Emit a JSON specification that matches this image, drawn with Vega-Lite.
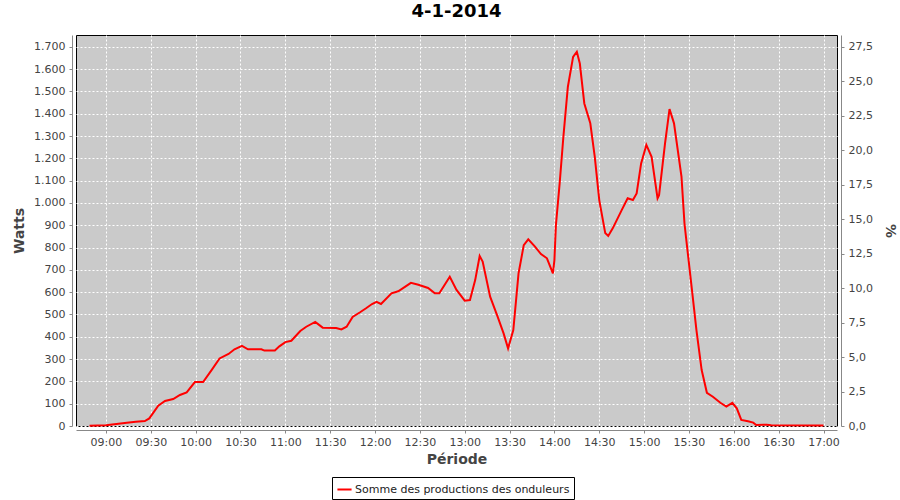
{
  "$schema": "https://vega.github.io/schema/vega-lite/v6.json",
  "autosize": "none",
  "width": 761,
  "height": 391,
  "padding": {"left": 76, "top": 35, "right": 63, "bottom": 74},
  "background": "white",
  "title": {"text": "4-1-2014", "fontSize": 18, "fontWeight": "bold", "font": "DejaVu Sans", "color": "black", "anchor": "middle", "offset": 11},
  "config": {
    "view": {"fill": "#cacaca", "stroke": "black", "strokeWidth": 1},
    "axis": {
      "labelFont": "DejaVu Sans", "labelFontSize": 11, "labelColor": "#444444",
      "titleFont": "DejaVu Sans", "titleFontSize": 14, "titleFontWeight": "bold", "titleColor": "#444444",
      "domainColor": "#888888", "tickColor": "#888888", "tickSize": 3,
      "gridColor": "white", "gridDash": [2, 2], "gridOpacity": 1, "gridWidth": 1
    }
  },
  "data": {"values": [
    {"t": "2014-01-04 08:49", "w": 1},
    {"t": "2014-01-04 09:00", "w": 3},
    {"t": "2014-01-04 09:07", "w": 9},
    {"t": "2014-01-04 09:14", "w": 15},
    {"t": "2014-01-04 09:20", "w": 19},
    {"t": "2014-01-04 09:26", "w": 22},
    {"t": "2014-01-04 09:29", "w": 34},
    {"t": "2014-01-04 09:35", "w": 91},
    {"t": "2014-01-04 09:39:30", "w": 112},
    {"t": "2014-01-04 09:45", "w": 121},
    {"t": "2014-01-04 09:49:30", "w": 139},
    {"t": "2014-01-04 09:54", "w": 151},
    {"t": "2014-01-04 09:59:30", "w": 197},
    {"t": "2014-01-04 10:05", "w": 197},
    {"t": "2014-01-04 10:11", "w": 254},
    {"t": "2014-01-04 10:16", "w": 303},
    {"t": "2014-01-04 10:22", "w": 323},
    {"t": "2014-01-04 10:26", "w": 344},
    {"t": "2014-01-04 10:31", "w": 359},
    {"t": "2014-01-04 10:35", "w": 344},
    {"t": "2014-01-04 10:44", "w": 344},
    {"t": "2014-01-04 10:46", "w": 338},
    {"t": "2014-01-04 10:53", "w": 339},
    {"t": "2014-01-04 10:56", "w": 357},
    {"t": "2014-01-04 11:00", "w": 376},
    {"t": "2014-01-04 11:04", "w": 382},
    {"t": "2014-01-04 11:10", "w": 426},
    {"t": "2014-01-04 11:14", "w": 445},
    {"t": "2014-01-04 11:20", "w": 467},
    {"t": "2014-01-04 11:25", "w": 441},
    {"t": "2014-01-04 11:34", "w": 439},
    {"t": "2014-01-04 11:37:30", "w": 433},
    {"t": "2014-01-04 11:41", "w": 445},
    {"t": "2014-01-04 11:45", "w": 489},
    {"t": "2014-01-04 11:50", "w": 510},
    {"t": "2014-01-04 11:54", "w": 528},
    {"t": "2014-01-04 11:58", "w": 547},
    {"t": "2014-01-04 12:01", "w": 557},
    {"t": "2014-01-04 12:04", "w": 547},
    {"t": "2014-01-04 12:11", "w": 595},
    {"t": "2014-01-04 12:15:30", "w": 604},
    {"t": "2014-01-04 12:20", "w": 624},
    {"t": "2014-01-04 12:24", "w": 642},
    {"t": "2014-01-04 12:29", "w": 633},
    {"t": "2014-01-04 12:35:30", "w": 619},
    {"t": "2014-01-04 12:40", "w": 595},
    {"t": "2014-01-04 12:43", "w": 595},
    {"t": "2014-01-04 12:50", "w": 669},
    {"t": "2014-01-04 12:54:30", "w": 610},
    {"t": "2014-01-04 13:00", "w": 562},
    {"t": "2014-01-04 13:03:30", "w": 565},
    {"t": "2014-01-04 13:07", "w": 654},
    {"t": "2014-01-04 13:10", "w": 762},
    {"t": "2014-01-04 13:12", "w": 737},
    {"t": "2014-01-04 13:17", "w": 580},
    {"t": "2014-01-04 13:22", "w": 490},
    {"t": "2014-01-04 13:26", "w": 415},
    {"t": "2014-01-04 13:29", "w": 348},
    {"t": "2014-01-04 13:32:30", "w": 430},
    {"t": "2014-01-04 13:36", "w": 684},
    {"t": "2014-01-04 13:39:30", "w": 811},
    {"t": "2014-01-04 13:42:30", "w": 837},
    {"t": "2014-01-04 13:47", "w": 804},
    {"t": "2014-01-04 13:51", "w": 771},
    {"t": "2014-01-04 13:55", "w": 752},
    {"t": "2014-01-04 13:59", "w": 684},
    {"t": "2014-01-04 14:00", "w": 744},
    {"t": "2014-01-04 14:01", "w": 900},
    {"t": "2014-01-04 14:03:30", "w": 1088},
    {"t": "2014-01-04 14:06", "w": 1297},
    {"t": "2014-01-04 14:09", "w": 1521},
    {"t": "2014-01-04 14:12:30", "w": 1655},
    {"t": "2014-01-04 14:15", "w": 1678},
    {"t": "2014-01-04 14:17", "w": 1625},
    {"t": "2014-01-04 14:20", "w": 1446},
    {"t": "2014-01-04 14:24", "w": 1357},
    {"t": "2014-01-04 14:27", "w": 1207},
    {"t": "2014-01-04 14:30", "w": 1013},
    {"t": "2014-01-04 14:34", "w": 865},
    {"t": "2014-01-04 14:36", "w": 852},
    {"t": "2014-01-04 14:39", "w": 886},
    {"t": "2014-01-04 14:45", "w": 968},
    {"t": "2014-01-04 14:49", "w": 1021},
    {"t": "2014-01-04 14:52:30", "w": 1013},
    {"t": "2014-01-04 14:55", "w": 1043},
    {"t": "2014-01-04 14:58", "w": 1177},
    {"t": "2014-01-04 15:01:30", "w": 1260},
    {"t": "2014-01-04 15:05", "w": 1207},
    {"t": "2014-01-04 15:09", "w": 1021},
    {"t": "2014-01-04 15:10", "w": 1035},
    {"t": "2014-01-04 15:14", "w": 1267},
    {"t": "2014-01-04 15:17", "w": 1421},
    {"t": "2014-01-04 15:20", "w": 1357},
    {"t": "2014-01-04 15:25", "w": 1118},
    {"t": "2014-01-04 15:27", "w": 909},
    {"t": "2014-01-04 15:28", "w": 848},
    {"t": "2014-01-04 15:32", "w": 610},
    {"t": "2014-01-04 15:35", "w": 430},
    {"t": "2014-01-04 15:38:30", "w": 251},
    {"t": "2014-01-04 15:42", "w": 149},
    {"t": "2014-01-04 15:46", "w": 131},
    {"t": "2014-01-04 15:51", "w": 104},
    {"t": "2014-01-04 15:55", "w": 87},
    {"t": "2014-01-04 15:59", "w": 104},
    {"t": "2014-01-04 16:02", "w": 79},
    {"t": "2014-01-04 16:05", "w": 27},
    {"t": "2014-01-04 16:09:30", "w": 21},
    {"t": "2014-01-04 16:13", "w": 15},
    {"t": "2014-01-04 16:15", "w": 4},
    {"t": "2014-01-04 16:22", "w": 6},
    {"t": "2014-01-04 16:25", "w": 3},
    {"t": "2014-01-04 17:00", "w": 2}
  ]},
  "layer": [
    {
      "mark": {"type": "line", "strokeWidth": 2},
      "encoding": {
        "x": {
          "field": "t", "type": "temporal", "title": "Période",
          "scale": {"padding": 13.5, "nice": false},
          "axis": {"format": "%H:%M", "offset": 4, "tickCount": 17, "labelFlush": false, "labelPadding": 3, "titlePadding": 5}
        },
        "y": {
          "field": "w", "type": "quantitative", "title": "Watts",
          "scale": {"domain": [0, 1753], "nice": false},
          "axis": {
            "offset": 4,
            "values": [0,100,200,300,400,500,600,700,800,900,1000,1100,1200,1300,1400,1500,1600,1700],
            "labelExpr": "replace(format(datum.value, ',.0f'), ',', '.')",
            "labelPadding": 4, "titlePadding": 7
          }
        },
        "color": {
          "datum": "Somme des productions des onduleurs",
          "type": "nominal",
          "scale": {"range": ["#ff0000"]},
          "legend": {
            "title": null, "orient": "none", "legendX": 256, "legendY": 442,
            "symbolType": "stroke", "symbolStrokeWidth": 2, "symbolSize": 200,
            "labelFont": "DejaVu Sans", "labelFontSize": 11, "labelColor": "#222222", "labelLimit": 400,
            "strokeColor": "black", "fillColor": "white", "padding": 4, "labelOffset": 2
          }
        }
      }
    },
    {
      "data": {"values": [{"pct": 0}, {"pct": 28.357}]},
      "mark": {"type": "point", "opacity": 0},
      "encoding": {
        "y": {
          "field": "pct", "type": "quantitative", "title": "%",
          "scale": {"domain": [0, 28.357], "nice": false},
          "axis": {
            "orient": "right", "grid": false, "offset": 4,
            "values": [0, 2.5, 5, 7.5, 10, 12.5, 15, 17.5, 20, 22.5, 25, 27.5],
            "labelExpr": "replace(format(datum.value, '.1f'), '.', ',')",
            "labelPadding": 4, "titlePadding": 10
          }
        }
      }
    }
  ],
  "resolve": {"scale": {"y": "independent"}}
}
